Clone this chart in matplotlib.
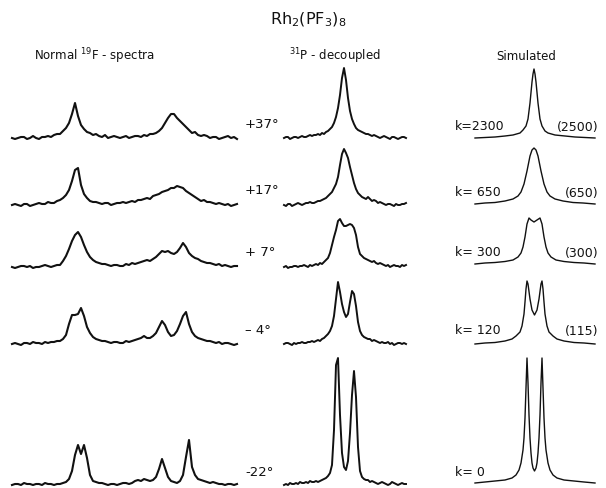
import numpy as np
import matplotlib
matplotlib.use("Agg")
import matplotlib.pyplot as plt

# ---------------- data ----------------
title = "Rh$_2$(PF$_3$)$_8$"
col_titles = ["Normal $^{19}$F - spectra", "$^{31}$P - decoupled", "Simulated"]
temperatures = ["+37°", "+17°", "+ 7°", "– 4°", "-22°"]
k_fitted = ["k=2300", "k= 650", "k= 300", "k= 120", "k= 0"]
k_recalc = ["(2500)", "(650)", "(300)", "(115)", ""]

# Normal 19F spectra: intensity at frequency steps of 3 units (0..225)
normal_step = 3
normal_37 = [0, -1, 0, 1, 1, -1, 0, 2, 0, -1, 1, 1, 2, 1, 3, 4, 4, 7, 10, 15, 24, 35, 22, 13, 9, 6,
             5, 3, 4, 2, 1, 3, 0, 1, 2, 1, 0, 1, 2, 0, 1, 2, 2, 1, 3, 2, 4, 4, 5, 7, 10, 15, 20,
             24, 24, 20, 17, 14, 11, 8, 5, 6, 3, 2, 3, 2, 0, 1, 1, -1, 0, 1, 2, 0, 1, -1]
normal_17 = [0, 1, 0, -1, 1, 1, -1, 0, 1, 2, 1, 1, 3, 2, 2, 4, 5, 7, 10, 15, 24, 35, 37, 20, 11, 7,
             4, 3, 3, 2, 1, 2, 2, 0, 1, 2, 2, 3, 2, 3, 4, 3, 5, 5, 6, 7, 6, 9, 10, 11, 13, 14, 15,
             17, 17, 19, 18, 17, 14, 12, 10, 8, 6, 4, 5, 3, 3, 2, 1, 2, 1, 0, 1, -1, 0, 1]
normal_7 = [0, -1, 0, 1, 1, 0, 1, -1, 0, 0, 1, 2, 1, 0, 1, 2, 2, 6, 11, 18, 26, 32, 35, 30, 22, 15,
            10, 7, 5, 4, 3, 3, 2, 1, 2, 2, 1, 1, 3, 2, 4, 3, 4, 5, 6, 7, 6, 8, 10, 13, 16, 15, 16,
            14, 13, 15, 19, 24, 20, 14, 11, 9, 8, 6, 5, 4, 4, 3, 2, 3, 1, 2, 1, 0, 1, 1]
normal_m4 = [0, 1, 0, -1, 1, 1, 0, 2, 1, 1, 0, 2, 1, 2, 2, 3, 3, 5, 9, 20, 29, 29, 30, 36, 28, 17,
             11, 7, 5, 4, 3, 3, 2, 1, 2, 2, 1, 1, 3, 2, 3, 4, 5, 6, 8, 6, 6, 8, 11, 17, 23, 19, 12,
             8, 9, 13, 20, 28, 32, 20, 12, 8, 6, 5, 4, 3, 3, 2, 1, 2, 0, 1, 1, 0, -1, 0]
normal_m22 = [0, 1, 1, 0, 2, 1, 1, 0, 1, 1, 0, 2, 1, 1, 0, 1, 1, 2, 3, 6, 14, 30, 40, 31, 40, 27,
              10, 4, 3, 2, 2, 1, 0, 1, 1, 0, 1, 2, 2, 1, 2, 4, 5, 4, 6, 5, 4, 5, 8, 16, 26, 17, 8,
              4, 3, 2, 4, 10, 28, 45, 18, 10, 6, 5, 4, 3, 2, 3, 2, 1, 1, 0, 1, 1, 0, 1]

# 31P-decoupled spectra: intensity at frequency steps of 2 units (0..122)
dec_step = 2
dec_37 = [0, 1, 1, -1, 0, 1, 1, 0, 1, 2, 1, 1, 2, 3, 2, 3, 3, 4, 3, 5, 4, 6, 7, 9, 11, 15, 21, 30,
          43, 60, 70, 58, 40, 27, 19, 14, 10, 8, 7, 6, 5, 4, 4, 3, 2, 3, 2, 1, 0, 1, 2, 1, 0, -1,
          1, 1, 0, -1, 0, 1, 1, 0]
dec_17 = [0, -1, 1, 1, -1, 0, 1, 2, 1, 0, 1, 2, 2, 3, 2, 2, 3, 4, 4, 5, 6, 7, 9, 11, 13, 17, 21, 28,
          40, 51, 56, 52, 47, 38, 30, 22, 16, 12, 10, 8, 7, 6, 8, 6, 4, 5, 4, 2, 3, 2, 1, 0, 1, 1,
          0, -1, 1, 0, 0, 1, 1, 2]
dec_7 = [0, 1, -1, 0, 0, 1, 1, 0, 1, 1, 2, 1, 0, 2, 1, 2, 3, 2, 4, 3, 5, 7, 9, 14, 22, 30, 37, 46,
         48, 44, 41, 41, 42, 43, 42, 39, 32, 20, 13, 11, 9, 8, 7, 6, 5, 6, 4, 3, 4, 3, 2, 1, 2, 0,
         1, 2, 1, 1, 0, 2, 1, 2]
dec_m4 = [0, 1, 1, 0, -1, 1, 0, 1, 1, 2, 1, 1, 2, 2, 3, 2, 3, 4, 3, 5, 6, 8, 10, 13, 18, 28, 45, 62,
          52, 40, 32, 27, 30, 42, 53, 50, 38, 22, 13, 9, 7, 6, 5, 5, 3, 4, 3, 2, 1, 2, 1, 1, 2, 0,
          1, -1, 0, 1, 1, 0, 1, 0]
dec_m22 = [0, 1, 0, 2, 1, 1, 2, 1, 3, 2, 2, 3, 2, 4, 3, 3, 4, 3, 4, 5, 6, 7, 9, 12, 20, 55, 120, 127,
           70, 32, 18, 15, 24, 52, 90, 114, 88, 38, 14, 8, 6, 5, 5, 3, 4, 3, 2, 1, 2, 3, 2, 1, 0,
           1, 3, 2, 1, 0, 1, 2, 1, 1]

# Simulated spectra: (frequency, intensity) pairs
sim_2300_f = [0, 10, 20, 30, 38, 45, 48, 51, 53, 55, 57, 58, 59, 60, 61, 63, 65, 67, 70, 73, 80, 90,
              100, 110, 120]
sim_2300_h = [0, 0.5, 1, 2, 3, 5, 8, 12, 19, 35, 56, 64, 69, 64, 56, 35, 19, 12, 7, 5, 3, 2, 1, 0.5, 0]
sim_650_f = [0, 10, 20, 30, 38, 43, 46, 49, 52, 55, 57, 59, 61, 63, 66, 69, 72, 75, 80, 88, 98, 108,
             120]
sim_650_h = [0, 1, 1.5, 3, 5, 8, 12, 20, 33, 48, 54, 56, 54, 48, 33, 20, 12, 8, 5, 3, 1.5, 1, 0]
sim_300_f = [0, 10, 20, 30, 38, 43, 46, 48, 50, 52, 54, 56, 59, 62, 65, 67, 69, 71, 73, 76, 81, 89,
             99, 109, 120]
sim_300_h = [0, 1, 1.5, 2.5, 4, 7, 11, 17, 27, 40, 46, 44, 42, 44, 46, 40, 27, 17, 11, 7, 4, 2.5,
             1.5, 1, 0]
sim_120_f = [0, 10, 20, 30, 37, 41, 45, 47, 49, 50, 51, 52, 53, 55, 57, 59.5, 62, 64, 66, 67, 68, 69,
             70, 72, 74, 78, 82, 89, 99, 109, 120]
sim_120_h = [0, 1, 1.5, 3, 5, 8, 12, 18, 30, 42, 55, 63, 60, 45, 34, 29, 34, 45, 60, 63, 55, 42, 30,
             18, 12, 8, 5, 3, 1.5, 1, 0]
sim_0_f = [0, 10, 20, 30, 37, 41, 44, 46, 48, 49, 50, 51, 52, 53, 54, 55, 56, 57, 58, 59.5, 61, 62,
           63, 64, 65, 66, 67, 68, 69, 70, 71, 73, 75, 78, 82, 89, 99, 109, 120]
sim_0_h = [0, 1, 2, 3, 5, 8, 13, 20, 33, 45, 65, 95, 125, 100, 68, 45, 30, 20, 15, 12, 15, 20, 30,
           45, 68, 100, 125, 95, 65, 45, 33, 20, 13, 8, 5, 3, 2, 1, 0]

normal_traces = [normal_37, normal_17, normal_7, normal_m4, normal_m22]
dec_traces = [dec_37, dec_17, dec_7, dec_m4, dec_m22]
sim_traces = [(sim_2300_f, sim_2300_h), (sim_650_f, sim_650_h), (sim_300_f, sim_300_h),
              (sim_120_f, sim_120_h), (sim_0_f, sim_0_h)]

# ---------------- layout ----------------
W, H = 606, 489
fig = plt.figure(figsize=(W / 100, H / 100), dpi=100)
ax = fig.add_axes([0, 0, 1, 1])
ax.set_xlim(0, W)
ax.set_ylim(H, 0)
ax.axis("off")

baselines = [139, 206, 268, 345, 486]
sim_baselines = [139, 205, 265, 345, 484]
x_normal, x_dec, x_sim = 12, 284, 475
ink = "#111111"
fam = ["DejaVu Sans"]

for tr, b in zip(normal_traces, baselines):
    f = np.arange(len(tr)) * normal_step
    ax.plot(x_normal + f, b - np.asarray(tr), color=ink, lw=1.5, solid_joinstyle="round")
for tr, b in zip(dec_traces, baselines):
    f = np.arange(len(tr)) * dec_step
    ax.plot(x_dec + f, b - np.asarray(tr), color=ink, lw=1.4, solid_joinstyle="round")
for (f, h), b in zip(sim_traces, sim_baselines):
    ax.plot(x_sim + np.asarray(f), b - np.asarray(h), color=ink, lw=1.0)

ax.text(308, 20, title, ha="center", va="center", fontsize=11.5, family=fam, color=ink)
ax.text(34, 56, col_titles[0], ha="left", va="center", fontsize=8.5, family=fam, color=ink)
ax.text(289, 56, col_titles[1], ha="left", va="center", fontsize=8.5, family=fam, color=ink)
ax.text(526, 56, col_titles[2], ha="center", va="center", fontsize=8.5, family=fam, color=ink)

temp_y = [125, 190, 252, 330, 473]
for t, y in zip(temperatures, temp_y):
    ax.text(245, y, t, ha="left", va="center", fontsize=9.5, family=fam, color=ink)

k_y = [127, 193, 253, 331, 473]
for k, r, y in zip(k_fitted, k_recalc, k_y):
    ax.text(455, y, k, ha="left", va="center", fontsize=9, family=fam, color=ink)
    if r:
        ax.text(598, y, r, ha="right", va="center", fontsize=9, family=fam, color=ink)

fig.savefig("out.png", dpi=100, facecolor="white")
